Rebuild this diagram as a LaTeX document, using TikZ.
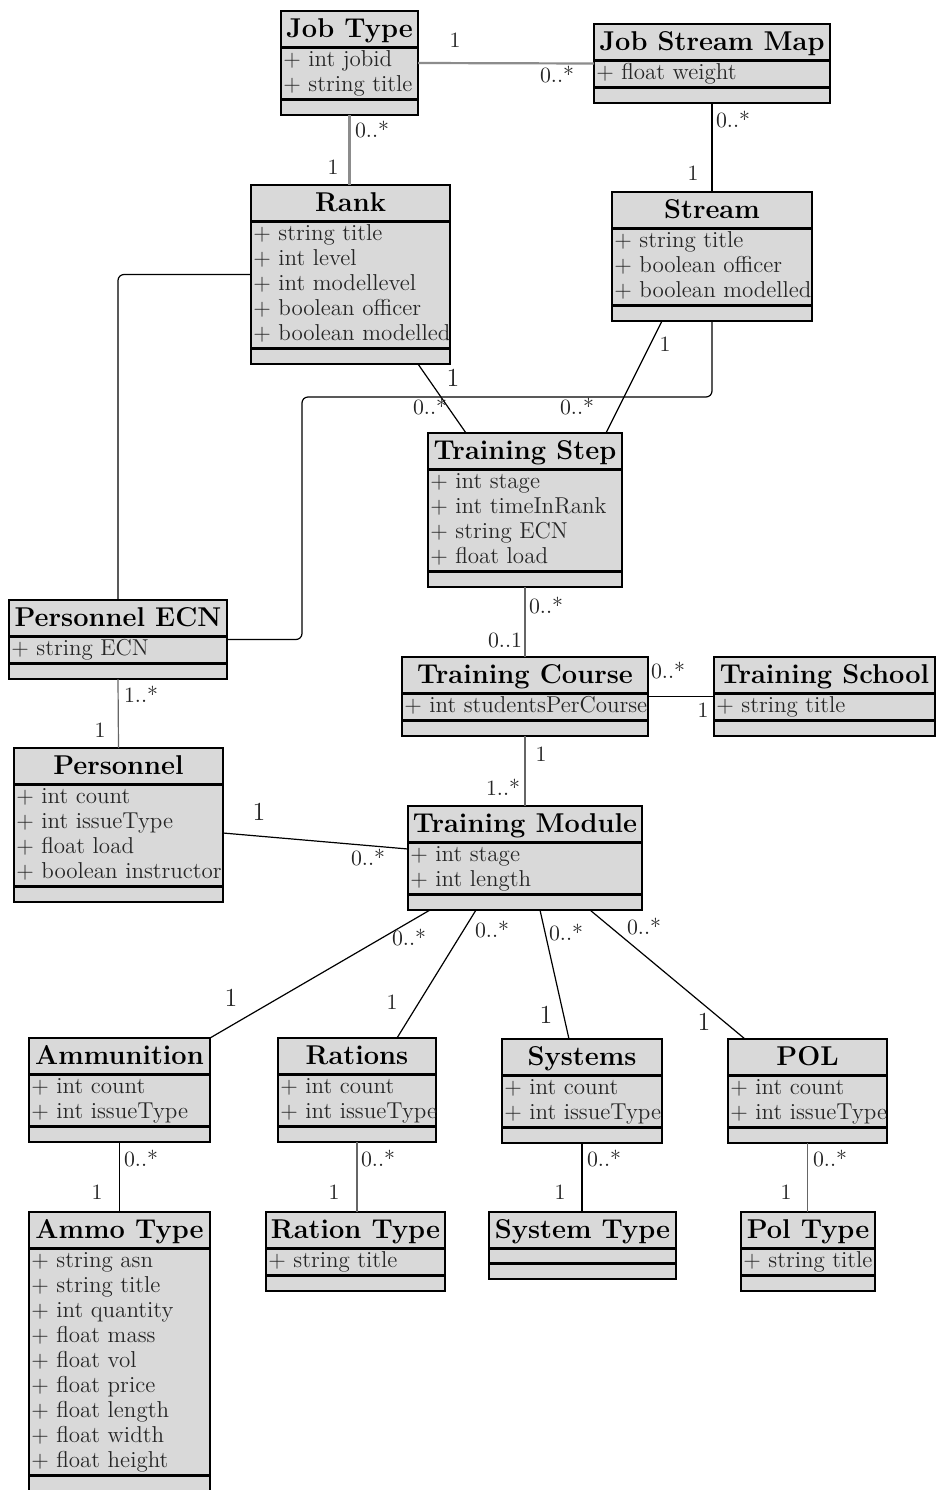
\documentclass[tikz,border=0pt]{standalone}
\usetikzlibrary{calc}
\definecolor{boxgray}{HTML}{D9D9D9}
\tikzset{
  classbox/.style={draw=black, fill=boxgray, line width=0.8pt, rectangle, anchor=north west, inner sep=0pt, outer sep=0pt},
  sepline/.style={draw=black, line width=1.5pt},
  ctitle/.style={anchor=base, inner sep=0pt, font=\fontsize{13.6}{16}\selectfont\bfseries},
  cattr/.style={anchor=base west, inner sep=0pt, text=black!85, font=\fontsize{11.5}{13}\selectfont},
  mult/.style={inner sep=0pt, text=black!85, font=\fontsize{10.9}{12}\selectfont},
  multbig/.style={inner sep=0pt, text=black!85, font=\fontsize{13}{14}\selectfont},
  conn/.style={draw=black, line width=0.6pt},
  connG/.style={draw=black!45, line width=1.1pt},
  connL/.style={draw=black!60, line width=0.6pt},
}
\newcommand\umlclass[7]{%
  \pgfmathsetmacro\uA{#4+36}%
  \pgfmathsetmacro\uB{\uA+25*#5+(#5>0)*2+(#5==0)*15}%
  \pgfmathsetmacro\uC{\uB+16}%
  \pgfmathsetmacro\uW{(#3-#2)*0.5}%
  \pgfmathsetmacro\uH{(\uC-#4)*0.5}%
  \pgfmathsetmacro\uM{(#2+#3)/2}%
  \node[classbox, minimum width=\uW pt, minimum height=\uH pt] (#1) at (#2,#4) {};
  \draw[sepline] (#2,\uA) -- (#3,\uA) (#2,\uB) -- (#3,\uB);
  \node[ctitle] (#1-t) at (\uM,#4+26) {#6};
  \ifnum#5>0
    \foreach \a [count=\i from 0] in {#7} {\node[cattr] (#1-a\i) at (#2+2,\uA+19+25*\i) {\a};}
  \fi
}
\begin{document}
\begin{tikzpicture}[x=0.5pt,y=-0.5pt]
\fill[white] (0,0) rectangle (936,1490);
\useasboundingbox (0,0) rectangle (936,1490);

\umlclass{jobtype}{281}{418}{11}{2}{Job Type}{+ int jobid, + string title}
\umlclass{jsm}{594}{830}{24}{1}{Job Stream Map}{+ float weight}
\umlclass{rank}{251}{450}{185}{5}{Rank}{+ string title, + int level, + int modellevel, + boolean officer, + boolean modelled}
\umlclass{stream}{612}{812}{192}{3}{Stream}{+ string title, + boolean officer, + boolean modelled}
\umlclass{ts}{428}{622}{433}{4}{Training Step}{+ int stage, + int timeInRank, + string ECN, + float load}
\umlclass{pecn}{9}{227}{600}{1}{Personnel ECN}{+ string ECN}
\umlclass{tc}{402}{648}{657}{1}{Training Course}{+ int studentsPerCourse}
\umlclass{tsch}{714}{935}{657}{1}{Training School}{+ string title}
\umlclass{pers}{14}{223}{748}{4}{Personnel}{+ int count, + int issueType, + float load, + boolean instructor}
\umlclass{tm}{408}{642}{806}{2}{Training Module}{+ int stage, + int length}
\umlclass{ammo}{29}{210}{1038}{2}{Ammunition}{+ int count, + int issueType}
\umlclass{rations}{278}{436}{1038}{2}{Rations}{+ int count, + int issueType}
\umlclass{systems}{502}{662}{1039}{2}{Systems}{+ int count, + int issueType}
\umlclass{pol}{728}{887}{1039}{2}{POL}{+ int count, + int issueType}
\umlclass{ammotype}{29}{210}{1212}{9}{Ammo Type}{+ string asn, + string title, + int quantity, + float mass, + float vol, + float price, + float length, + float width, + float height}
\umlclass{rationtype}{266}{445}{1212}{1}{Ration Type}{+ string title}
\umlclass{systemtype}{489}{676}{1212}{0}{System Type}{}
\umlclass{poltype}{741}{875}{1212}{1}{Pol Type}{+ string title}

% connectors
\draw[connG] (jobtype.east) -- (jsm.west);
\draw[connG] (jobtype.south) -- (jobtype.south |- rank.north);
\draw[conn] (jsm.south) -- (jsm.south |- stream.north);
\draw[conn] ($(rank.south west)+(167,0)$) -- ($(ts.north west)+(38,0)$);
\draw[conn] ($(stream.south west)+(50,0)$) -- ($(ts.north west)+(178,0)$);
\draw[conn, rounded corners=3pt] (rank.west) -| (pecn.north);
\coordinate (bend) at (302,397);
\draw[conn, rounded corners=3pt] (stream.south) |- (bend) |- (pecn.east);
\draw[connL] (ts.south) -- (tc.north);
\draw[conn] (tc.east) -- (tsch.west);
\draw[connL] (pecn.south) -- (pers.north);
\draw[connL] (tc.south) -- (tm.north);
\draw[conn] ($(pers.north east)+(0,85)$) -- ($(tm.north west)+(0,43)$);
\draw[conn] ($(tm.south west)+(22,0)$) -- (ammo.north east);
\draw[conn] ($(tm.south west)+(68,0)$) -- ($(rations.north west)+(119,0)$);
\draw[conn] ($(tm.south west)+(132,0)$) -- ($(systems.north west)+(67,0)$);
\draw[conn] ($(tm.south west)+(182,0)$) -- ($(pol.north west)+(17,0)$);
\draw[conn] (ammo.south) -- (ammo.south |- ammotype.north);
\draw[connL] (rations.south) -- (rations.south |- rationtype.north);
\draw[conn] (systems.south) -- (systems.south |- systemtype.north);
\draw[connL] (pol.south) -- (pol.south |- poltype.north);

% multiplicities
\node[mult] (m1) at (455,40) {1};
\node[mult] (m2) at (557,75) {0..*};
\node[mult] (m3) at (372,130) {0..*};
\node[mult] (m4) at (333,167) {1};
\node[mult] (m5) at (733,120) {0..*};
\node[mult] (m6) at (693,173) {1};
\node[multbig] (m7) at (453,378) {1};
\node[mult] (m8) at (430,407) {0..*};
\node[mult] (m9) at (665,344) {1};
\node[mult] (m10) at (577,407) {0..*};
\node[mult] (m11) at (546,606) {0..*};
\node[mult] (m12) at (505,640) {0..1};
\node[mult] (m13) at (668,671) {0..*};
\node[mult] (m14) at (703,710) {1};
\node[mult] (m15) at (141,694) {1..*};
\node[mult] (m16) at (100,730) {1};
\node[mult] (m17) at (541,754) {1};
\node[mult] (m18) at (503,787) {1..*};
\node[multbig] (m19) at (259,812) {1};
\node[mult] (m20) at (368,858) {0..*};
\node[mult] (m21) at (409,938) {0..*};
\node[multbig] (m22) at (231,998) {1};
\node[mult] (m23) at (492,930) {0..*};
\node[mult] (m24) at (392,1002) {1};
\node[mult] (m25) at (566,933) {0..*};
\node[multbig] (m26) at (546,1015) {1};
\node[mult] (m27) at (644,927) {0..*};
\node[multbig] (m28) at (704,1022) {1};
\node[mult] (m29) at (141,1159) {0..*};
\node[mult] (m30) at (97,1192) {1};
\node[mult] (m31) at (378,1159) {0..*};
\node[mult] (m32) at (334,1192) {1};
\node[mult] (m33) at (604,1159) {0..*};
\node[mult] (m34) at (560,1192) {1};
\node[mult] (m35) at (830,1159) {0..*};
\node[mult] (m36) at (786,1192) {1};
\end{tikzpicture}
\end{document}
